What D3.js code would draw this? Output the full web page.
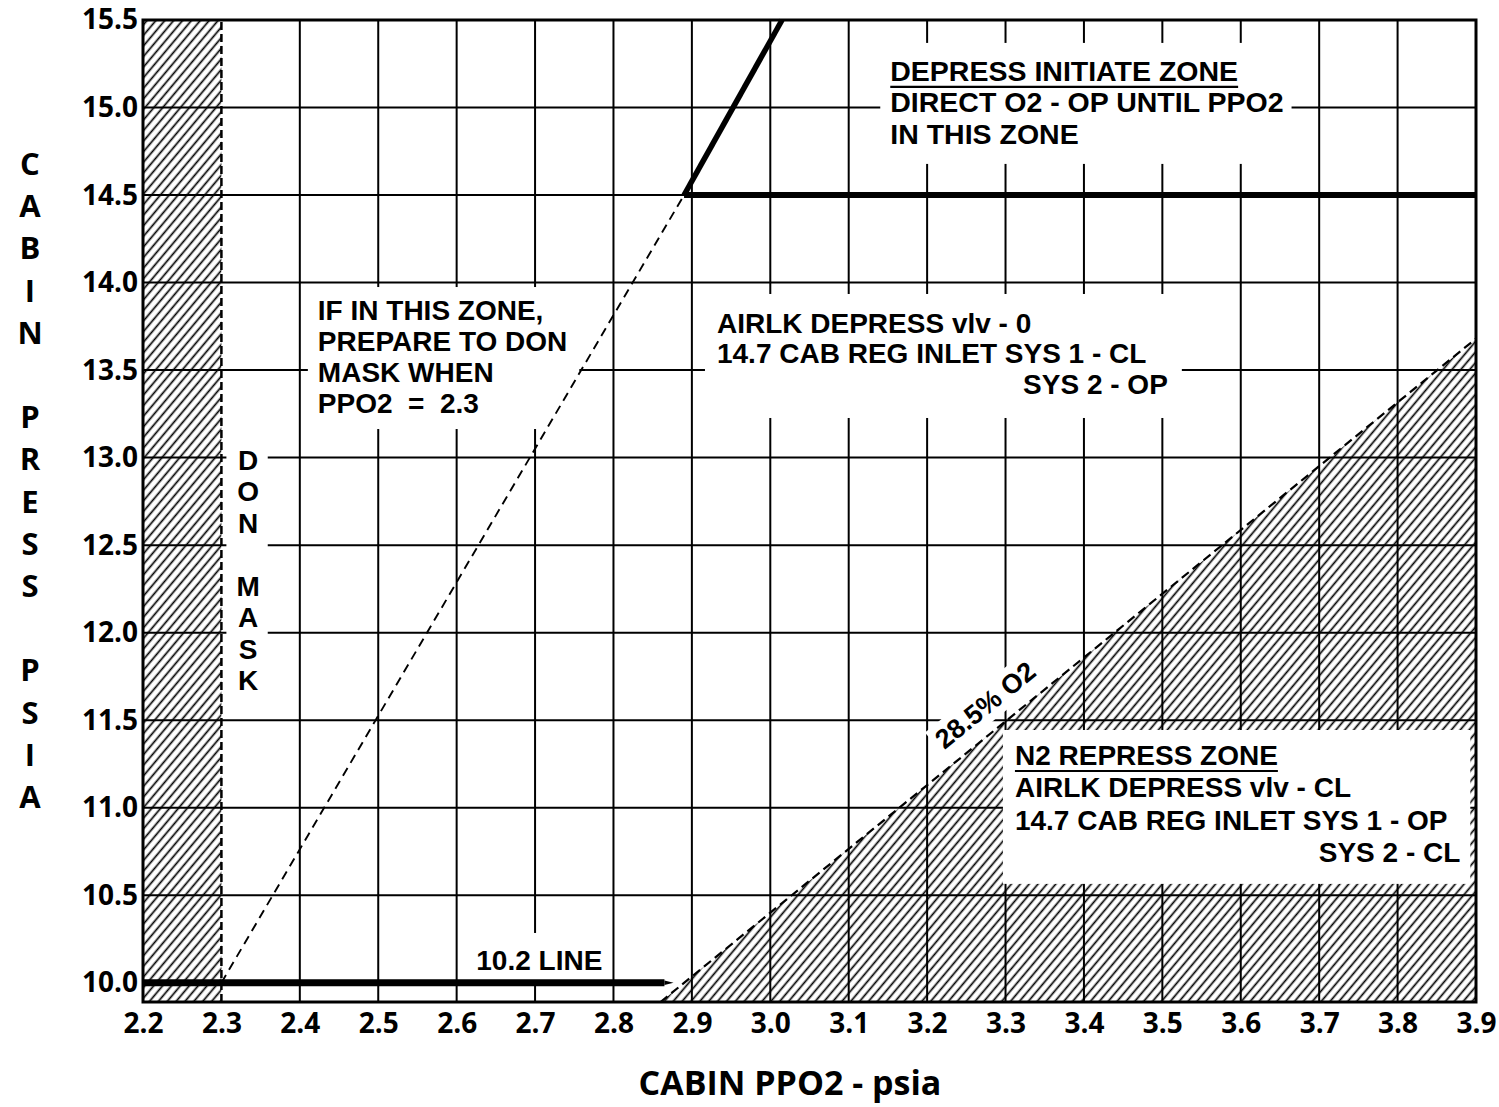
<!DOCTYPE html>
<html>
<head>
<meta charset="utf-8">
<script src="https://cdn.jsdelivr.net/npm/d3@7/dist/d3.min.js"></script>
<style>
  body { margin: 0; background: #fff; }
  text { font-family: 'Open Sans', 'Noto Sans', sans-serif; font-weight: 700; fill: #000; }
  .note { font-family: 'Liberation Sans', Arial, sans-serif; white-space: pre; }
</style>
</head>
<body>
<div id="chart"></div>
<script>
// axis values
var xTicks = [2.2, 2.3, 2.4, 2.5, 2.6, 2.7, 2.8, 2.9, 3.0, 3.1, 3.2, 3.3, 3.4, 3.5, 3.6, 3.7, 3.8, 3.9];
var yTicks = [10.0, 10.5, 11.0, 11.5, 12.0, 12.5, 13.0, 13.5, 14.0, 14.5, 15.0, 15.5];
var xGrid = [2.4, 2.5, 2.6, 2.7, 2.8, 2.9, 3.0, 3.1, 3.2, 3.3, 3.4, 3.5, 3.6, 3.7, 3.8];
var yGrid = [10.5, 11.0, 11.5, 12.0, 12.5, 13.0, 13.5, 14.0, 14.5, 15.0];

// lines (ppo2, cabin press)
var donMaskPPO2 = 2.3;
var maskLine = [[2.3, 10.0], [2.89, 14.5]];
var depressLine = [[2.89, 14.5], [3.015, 15.5]];
var depressFloor = [[2.89, 14.5], [3.9, 14.5]];
var line102 = [[2.2, 10.0], [2.865, 10.0]];
var o2Line = [[2.86, 9.89], [3.9, 13.68]];

// texts
var yTitle = ["C", "A", "B", "I", "N", "", "P", "R", "E", "S", "S", "", "P", "S", "I", "A"];
var donMask = ["D", "O", "N", "", "M", "A", "S", "K"];
var depressText = ["DEPRESS INITIATE ZONE", "DIRECT O2 - OP UNTIL PPO2", "IN THIS ZONE"];
var ifZoneText = ["IF IN THIS ZONE,", "PREPARE TO DON", "MASK WHEN", "PPO2  =  2.3"];
var airlkText = ["AIRLK DEPRESS vlv - 0", "14.7 CAB REG INLET SYS 1 - CL", "SYS 2 - OP"];
var n2Text = ["N2 REPRESS ZONE", "AIRLK DEPRESS vlv - CL", "14.7 CAB REG INLET SYS 1 - OP", "SYS 2 - CL"];

var margin = {top: 20, right: 23, bottom: 105, left: 143},
  width = 1499 - margin.left - margin.right,
  height = 1107 - margin.top - margin.bottom;

var svg = d3.select("#chart")
.append("svg")
  .attr("width", 1499)
  .attr("height", 1107);

var g = svg.append("g")
  .attr("transform", "translate(" + margin.left + "," + margin.top + ")");

var x = d3.scaleLinear().domain([2.2, 3.9]).range([0, width]);
var y = d3.scaleLinear().domain([9.89, 15.5]).range([height, 0]);

// hatch pattern + arrow tip
var defs = svg.append("defs");
var pat = defs.append("pattern")
  .attr("id", "hatch")
  .attr("patternUnits", "userSpaceOnUse")
  .attr("width", 6.8).attr("height", 10)
  .attr("patternTransform", "rotate(40)");
pat.append("line")
  .attr("x1", 3.4).attr("y1", 0).attr("x2", 3.4).attr("y2", 10)
  .attr("stroke", "#000").attr("stroke-width", 1.7);

defs.append("marker")
  .attr("id", "tip")
  .attr("viewBox", "0 0 4 2")
  .attr("refX", 0).attr("refY", 1)
  .attr("markerWidth", 1.3).attr("markerHeight", 1)
  .attr("orient", "auto")
.append("path")
  .attr("d", "M0,0 L4,1 L0,2 Z")
  .attr("fill", "#000");

// layers
var hatchLayer = g.append("g");
var gridLayer = g.append("g");
var boxLayer = g.append("g");
var lineLayer = g.append("g");
var textLayer = g.append("g");

// hatched zones
hatchLayer.append("rect")
  .attr("x", x(2.2)).attr("y", y(15.5))
  .attr("width", x(donMaskPPO2) - x(2.2))
  .attr("height", y(9.89) - y(15.5))
  .attr("fill", "url(#hatch)");

var area = d3.area()
  .x(function(d) { return x(d[0]); })
  .y0(y(9.89))
  .y1(function(d) { return y(d[1]); });
hatchLayer.append("path")
  .datum(o2Line)
  .attr("d", area)
  .attr("fill", "url(#hatch)");

// grid
gridLayer.selectAll(".vg").data(xGrid).enter().append("line")
  .attr("x1", function(d) { return x(d); }).attr("x2", function(d) { return x(d); })
  .attr("y1", y(9.89)).attr("y2", y(15.5))
  .attr("stroke", "#000").attr("stroke-width", 2);
gridLayer.selectAll(".hg").data(yGrid).enter().append("line")
  .attr("x1", x(2.2)).attr("x2", x(3.9))
  .attr("y1", function(d) { return y(d); }).attr("y2", function(d) { return y(d); })
  .attr("stroke", "#000").attr("stroke-width", 2);

// text blocks with white boxes behind them
function block(lines, px, py, step, pad, opts) {
  opts = opts || {};
  var t = textLayer.append("g");
  lines.forEach(function(s, i) {
    if (s === "") return;
    var el = t.append("text")
      .attr("class", "note")
      .attr("x", (opts.rightIdx === i) ? opts.rightX : px)
      .attr("y", py + i * step)
      .attr("text-anchor", (opts.rightIdx === i) ? "end" : (opts.anchor || "start"))
      .style("font-size", (opts.size || 28) + "px")
      .text(s);
    if (opts.underline === i) {
      var len = el.node().getComputedTextLength();
      t.append("line")
        .attr("x1", px).attr("x2", px + len)
        .attr("y1", py + i * step + 6).attr("y2", py + i * step + 6)
        .attr("stroke", "#000").attr("stroke-width", 2.2);
    }
  });
  var bb = t.node().getBBox();
  boxLayer.append("rect")
    .attr("x", bb.x - pad[3]).attr("y", bb.y - pad[0])
    .attr("width", bb.width + pad[1] + pad[3])
    .attr("height", bb.height + pad[0] + pad[2])
    .attr("fill", "#fff");
}

block(depressText, x(3.153), y(15.152), 31.5, [12, 8, 14, 10], {underline: 0, size: 28.5});
block(ifZoneText, x(2.423), y(13.786), 31, [8, 12, 10, 10]);
block(airlkText, x(2.932), y(13.712), 30.5, [14, 14, 18, 12], {rightIdx: 2, rightX: x(3.507)});
block(n2Text, x(3.312), y(11.244), 32.3, [10, 10, 16, 12], {underline: 0, rightIdx: 3, rightX: x(3.88)});
block(["10.2 LINE"], x(2.625), y(10.073), 0, [12, 6, 10, 6]);
block(donMask, x(2.334), y(13.0) + 12, 31.5, [10, 8, 8, 10], {anchor: "middle", size: 28});

// 28.5% O2 label along the dashed line
var o2Label = textLayer.append("g")
  .attr("transform", "translate(" + x(3.274) + "," + y(11.587) + ") rotate(-39)");
o2Label.append("text")
  .attr("class", "note")
  .attr("text-anchor", "middle")
  .attr("dy", "0.35em")
  .style("font-size", "27px")
  .text("28.5% O2");
var obb = o2Label.node().getBBox();
boxLayer.append("rect")
  .attr("transform", "translate(" + x(3.274) + "," + y(11.587) + ") rotate(-39)")
  .attr("x", obb.x - 4).attr("y", obb.y - 2)
  .attr("width", obb.width + 8).attr("height", obb.height + 4)
  .attr("fill", "#fff");

// lines
var line = d3.line()
  .x(function(d) { return x(d[0]); })
  .y(function(d) { return y(d[1]); });

lineLayer.append("line")
  .attr("x1", x(donMaskPPO2)).attr("x2", x(donMaskPPO2))
  .attr("y1", y(9.89)).attr("y2", y(15.5))
  .attr("stroke", "#000").attr("stroke-width", 2.5)
  .attr("stroke-dasharray", "8,4");

lineLayer.append("path").datum(maskLine).attr("d", line)
  .attr("fill", "none").attr("stroke", "#000").attr("stroke-width", 1.9)
  .attr("stroke-dasharray", "9,6");

lineLayer.append("path").datum(o2Line).attr("d", line)
  .attr("fill", "none").attr("stroke", "#000").attr("stroke-width", 2.2)
  .attr("stroke-dasharray", "9,5");

lineLayer.append("path").datum(depressLine).attr("d", line)
  .attr("fill", "none").attr("stroke", "#000").attr("stroke-width", 5.5);

lineLayer.append("path").datum(depressFloor).attr("d", line)
  .attr("fill", "none").attr("stroke", "#000").attr("stroke-width", 6);

lineLayer.append("path").datum(line102).attr("d", line)
  .attr("fill", "none").attr("stroke", "#000").attr("stroke-width", 7)
  .attr("marker-end", "url(#tip)");

// frame
lineLayer.append("rect")
  .attr("x", 0).attr("y", 0)
  .attr("width", width).attr("height", height)
  .attr("fill", "none").attr("stroke", "#000").attr("stroke-width", 3);

// axes
var xAxis = g.append("g")
  .attr("transform", "translate(0," + height + ")")
  .call(d3.axisBottom(x).tickValues(xTicks).tickFormat(d3.format(".1f")).tickSize(0).tickPadding(11));
var yAxis = g.append("g")
  .call(d3.axisLeft(y).tickValues(yTicks).tickFormat(d3.format(".1f")).tickSize(0).tickPadding(5));
[xAxis, yAxis].forEach(function(a) {
  a.select(".domain").remove();
  a.selectAll("text")
    .style("font-family", "'Open Sans', 'Noto Sans', sans-serif")
    .style("font-weight", 700)
    .style("font-size", "28px")
    .attr("fill", "#000");
});

// axis titles
svg.append("text")
  .attr("x", 790).attr("y", 1095)
  .attr("text-anchor", "middle")
  .style("font-size", "34px")
  .text("CABIN PPO2 - psia");

svg.selectAll(".yt").data(yTitle).enter().append("text")
  .attr("x", 30)
  .attr("y", function(d, i) { return 175 + i * 42.2; })
  .attr("text-anchor", "middle")
  .style("font-size", "31px")
  .text(function(d) { return d; });
</script>
</body>
</html>
